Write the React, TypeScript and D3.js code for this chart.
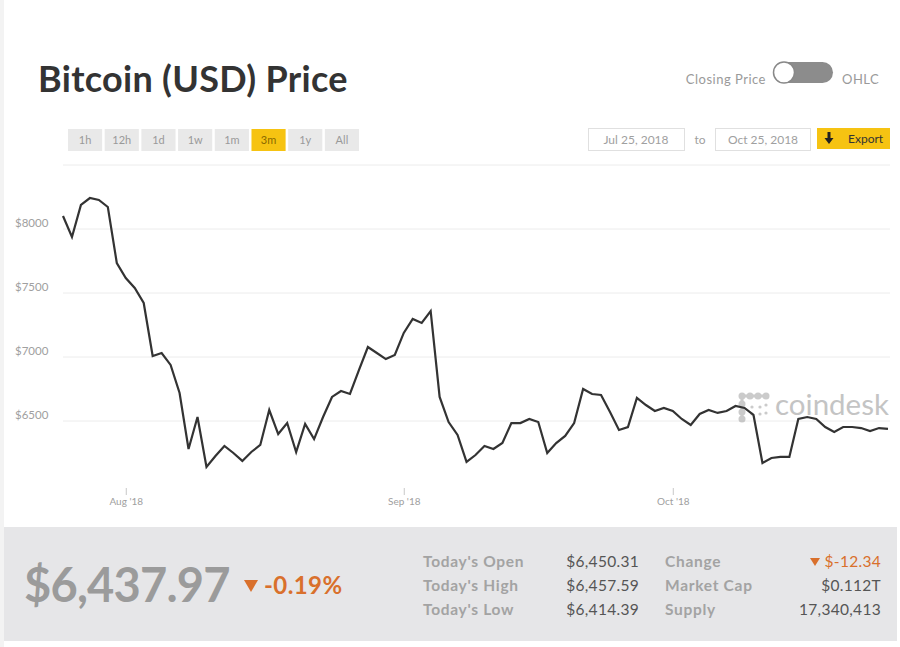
import React, { useEffect, useRef } from "react";
import * as d3 from "d3";

// daily closing prices, Jul 25 2018 -> Oct 25 2018
const START_DATE = "2018-07-25";
const closingPrices = [
  8102, 7938, 8188, 8242, 8227, 8172, 7734,
  7617, 7539, 7422, 7008, 7031, 6938, 6719, 6281, 6531, 6141, 6227, 6305, 6250,
  6188, 6258, 6313, 6586, 6398, 6484, 6258, 6477, 6359, 6531, 6688, 6734, 6711,
  6898, 7078, 7031, 6984, 7016,
  7188, 7297, 7266, 7359, 6688, 6492, 6391, 6180, 6234, 6305, 6281, 6328, 6484,
  6484, 6516, 6492, 6250, 6328, 6383, 6484, 6750, 6711, 6703, 6570, 6430, 6453,
  6680, 6625, 6578, 6602,
  6578, 6516, 6469, 6555, 6586, 6563, 6578, 6617, 6602, 6547, 6172, 6211, 6219,
  6219, 6516, 6531, 6516, 6453, 6414, 6453, 6453, 6445, 6422, 6445, 6438,
];

const yLabelTicks = [6500, 7000, 7500, 8000];
const gridTicks = [6500, 7000, 7500, 8000, 8500];
const xTickDates = ["2018-08-01", "2018-09-01", "2018-10-01"];

const rangeButtons = ["1h", "12h", "1d", "1w", "1m", "3m", "1y", "All"];
const activeRange = "3m";
const fromDate = "Jul 25, 2018";
const toDate = "Oct 25, 2018";

const currentPrice = "$6,437.97";
const changePct = "-0.19%";
const statsLeft = [
  ["Today's Open", "$6,450.31"],
  ["Today's High", "$6,457.59"],
  ["Today's Low", "$6,414.39"],
];
const statsRight = [
  ["Change", "$-12.34"],
  ["Market Cap", "$0.112T"],
  ["Supply", "17,340,413"],
];

const FONT = "Lato, 'Open Sans', sans-serif";
const ORANGE = "#d9702c";

const parse = d3.utcParse("%Y-%m-%d");

export default function App() {
  const chartRef = useRef<SVGGElement | null>(null);

  useEffect(() => {
    const g = d3.select(chartRef.current);
    g.selectAll("*").remove();

    const start = parse(START_DATE) as Date;
    const data = closingPrices.map((v, i) => ({
      date: d3.utcDay.offset(start, i),
      value: v,
    }));

    const x = d3
      .scaleUtc()
      .domain([start, d3.utcDay.offset(start, closingPrices.length - 1)])
      .range([63, 888]);
    const y = d3.scaleLinear().domain([6000, 8500]).range([485, 165]);

    // grid
    g.selectAll(".grid")
      .data(gridTicks)
      .enter()
      .append("line")
      .attr("x1", 63)
      .attr("x2", 890)
      .attr("y1", (d) => y(d))
      .attr("y2", (d) => y(d))
      .attr("stroke", "#ececec")
      .attr("stroke-width", 1);

    // y labels
    g.selectAll(".ylab")
      .data(yLabelTicks)
      .enter()
      .append("text")
      .attr("x", 15)
      .attr("y", (d) => y(d) - 2)
      .attr("font-size", 11.5)
      .attr("fill", "#a0a0a0")
      .attr("font-family", FONT)
      .text((d) => `$${d}`);

    // x axis
    const xAxis = g
      .append("g")
      .attr("transform", "translate(0,488)")
      .call(
        d3
          .axisBottom(x)
          .tickValues(xTickDates.map((d) => parse(d) as Date))
          .tickSize(7)
          .tickPadding(3)
          .tickFormat((d) => d3.utcFormat("%b '%y")(d as Date))
      );
    xAxis.select(".domain").remove();
    xAxis.selectAll("line").attr("stroke", "#c8c8c8");
    xAxis
      .selectAll("text")
      .attr("fill", "#a0a0a0")
      .attr("font-size", 10)
      .attr("font-family", FONT);

    // watermark
    const wm = g.append("g").attr("opacity", 0.5);
    const big = [
      [742, 396], [750, 396], [758, 396], [766, 396],
      [742, 404], [742, 412], [742, 419],
    ];
    wm.append("path")
      .attr("d", "M742,419 L742,396 L766,396")
      .attr("stroke", "#999")
      .attr("stroke-width", 3)
      .attr("fill", "none");
    wm.selectAll(".bd")
      .data(big)
      .enter()
      .append("circle")
      .attr("cx", (d) => d[0])
      .attr("cy", (d) => d[1])
      .attr("r", 3.5)
      .attr("fill", "#999");
    const small = [
      [752, 407], [752, 414], [760, 407], [760, 414], [766, 405], [766, 413],
    ];
    wm.selectAll(".sd")
      .data(small)
      .enter()
      .append("circle")
      .attr("cx", (d) => d[0])
      .attr("cy", (d) => d[1])
      .attr("r", 1.6)
      .attr("fill", "#999");
    wm.append("text")
      .attr("x", 775)
      .attr("y", 415)
      .attr("font-size", 29.5)
      .attr("font-family", FONT)
      .attr("fill", "#8a8a8a")
      .text("coindesk");

    // price line
    const line = d3
      .line<{ date: Date; value: number }>()
      .x((d) => x(d.date))
      .y((d) => y(d.value));
    g.append("path")
      .datum(data)
      .attr("d", line)
      .attr("fill", "none")
      .attr("stroke", "#333")
      .attr("stroke-width", 2.2)
      .attr("stroke-linejoin", "miter");
  }, []);

  const btn = d3.scaleBand().domain(rangeButtons).range([68, 359]).paddingInner(0.07);

  return (
    <svg
      width={900}
      height={647}
      style={{ position: "absolute", left: 0, top: 0, display: "block" }}
      fontFamily={FONT}
    >
      <rect x={0} y={0} width={900} height={647} fill="#fff" />
      <rect x={0} y={0} width={4} height={647} fill="#f3f3f3" />

      {/* header */}
      <text x={38} y={92} fontSize={36} fontWeight={700} fill="#333" letterSpacing={0.3}>
        Bitcoin (USD) Price
      </text>

      <text x={766} y={84} fontSize={13} fill="#9a9a9a" textAnchor="end" letterSpacing={0.5}>
        Closing Price
      </text>
      <rect x={775} y={62} width={58} height={21} rx={10.5} fill="#8c8c8c" />
      <circle cx={784} cy={72.5} r={10.5} fill="#fff" stroke="#888" strokeWidth={1.5} />
      <text x={842} y={84} fontSize={13} fill="#9a9a9a" letterSpacing={0.5}>
        OHLC
      </text>

      {rangeButtons.map((b) => (
        <g key={b}>
          <rect
            x={btn(b)}
            y={129}
            width={btn.bandwidth()}
            height={22}
            fill={b === activeRange ? "#f6c312" : "#e9e9e9"}
          />
          <text
            x={(btn(b) as number) + btn.bandwidth() / 2}
            y={144}
            fontSize={11}
            textAnchor="middle"
            fill={b === activeRange ? "#8a6a00" : "#999"}
          >
            {b}
          </text>
        </g>
      ))}

      <rect x={588.5} y={128.5} width={96} height={22} fill="#fff" stroke="#e0e0e0" />
      <text x={636} y={143.5} fontSize={12} fill="#a0a0a0" textAnchor="middle">
        {fromDate}
      </text>
      <text x={700} y={143.5} fontSize={12} fill="#a0a0a0" textAnchor="middle">
        to
      </text>
      <rect x={715.5} y={128.5} width={95} height={22} fill="#fff" stroke="#e0e0e0" />
      <text x={763} y={143.5} fontSize={12} fill="#a0a0a0" textAnchor="middle">
        {toDate}
      </text>
      <rect x={817} y={128} width={73} height={21} fill="#f6c312" />
      <path d="M827.5,132 L830.5,132 L830.5,138 L833.5,138 L829,144 L824.5,138 L827.5,138 Z" fill="#222" />
      <text x={848} y={142.5} fontSize={12} fill="#333">
        Export
      </text>

      {/* chart */}
      <g ref={chartRef} />

      {/* bottom stats panel */}
      <rect x={4} y={527} width={893} height={114} fill="#e6e6e8" />
      <text x={24} y={602} fontSize={47} fontWeight={700} fill="#9b9b9b" letterSpacing={-0.8}>
        {currentPrice}
      </text>
      <path d="M244,580 L258,580 L251,592 Z" fill={ORANGE} />
      <text x={264} y={594} fontSize={24} fontWeight={700} fill={ORANGE} letterSpacing={0.4}>
        {changePct}
      </text>

      {statsLeft.map((s, i) => (
        <g key={s[0]}>
          <text x={423} y={567 + i * 24} fontSize={15.5} fontWeight={700} fill="#a3a3a3" letterSpacing={0.7}>
            {s[0]}
          </text>
          <text x={639} y={567 + i * 24} fontSize={15.5} fill="#555" textAnchor="end" letterSpacing={0.3}>
            {s[1]}
          </text>
        </g>
      ))}
      {statsRight.map((s, i) => (
        <g key={s[0]}>
          <text x={665} y={567 + i * 24} fontSize={15.5} fontWeight={700} fill="#a3a3a3" letterSpacing={0.7}>
            {s[0]}
          </text>
          <text
            x={881}
            y={567 + i * 24}
            fontSize={15.5}
            fill={i === 0 ? ORANGE : "#555"}
            textAnchor="end"
            letterSpacing={0.3}
          >
            {s[1]}
          </text>
        </g>
      ))}
      <path d="M810,558 L820,558 L815,566 Z" fill={ORANGE} />
    </svg>
  );
}
